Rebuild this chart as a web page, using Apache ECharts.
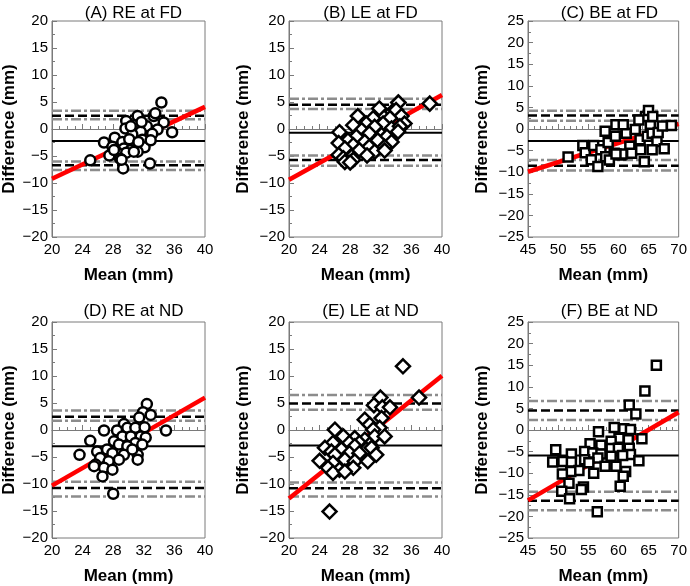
<!DOCTYPE html>
<html><head><meta charset="utf-8">
<script src="https://cdn.jsdelivr.net/npm/echarts@6/dist/echarts.min.js"></script>
<style>html,body{margin:0;padding:0;background:#fff}#c{width:690px;height:586px}</style>
</head><body><div id="c"></div><script>
// ---------------- data ----------------
const panelTitles = ['(A) RE at FD', '(B) LE at FD', '(C) BE at FD', '(D) RE at ND', '(E) LE at ND', '(F) BE at ND'];
const xAxisName = 'Mean (mm)';
const yAxisName = 'Difference (mm)';
const xMin = [20, 20, 45, 20, 20, 45];
const xMax = [40, 40, 70, 40, 40, 70];
const xStep = [4, 4, 5, 4, 4, 5];
const yMin = [-20, -20, -25, -20, -20, -25];
const yMax = [20, 20, 25, 20, 20, 25];
const yStep = [5, 5, 5, 5, 5, 5];

const meanBias   = [-2.2, -0.7, -2.75, -3.0, -2.85, -5.9];
const upperLoA   = [2.45, 4.5, 3.1, 2.45, 4.9, 4.5];
const upperLoACI = [[1.8, 3.4], [3.7, 5.6], [1.9, 4.2], [1.7, 3.6], [3.75, 6.5], [2.3, 6.7]];
const lowerLoA   = [-6.7, -5.75, -8.5, -10.75, -10.8, -16.4];
const lowerLoACI = [[-7.6, -6.0], [-6.8, -4.9], [-9.6, -7.2], [-12.3, -9.6], [-12.3, -9.7], [-18.6, -14.3]];
const regAtXMin  = [-9.2, -9.4, -9.9, -10.3, -12.7, -16.3];
const regAtXMax  = [4.1, 6.3, 1.2, 6.0, 10.05, 4.1];

const pointsA = [[34.3,4.9],[33.3,2.4],[33.5,2.9],[31.2,2.4],[29.7,1.5],[34.6,1.2],[32.4,0.5],[30.7,0.7],[29.6,0.1],[35.7,-0.6],[33.8,-0.1],[31.6,-0.5],[30.5,-1.0],[33.1,-0.9],[28.2,-1.6],[26.8,-2.5],[29.2,-2.4],[31.8,-2.0],[30.7,-3.0],[32.1,-3.4],[32.9,-2.1],[27.9,-3.3],[29.4,-3.6],[30.3,-3.9],[31.2,-4.2],[28.5,-4.3],[27.5,-4.9],[29.7,-4.4],[30.7,-4.2],[28.9,-5.5],[25.0,-5.8],[32.8,-6.4],[29.3,-7.3],[28.1,-3.9],[30.1,-1.9],[31.7,1.3],[30.3,0.5],[31.3,-2.4],[29.1,-5.7]];
const pointsB = [[38.4,4.7],[34.3,4.9],[31.8,3.8],[33.5,3.2],[34.0,3.5],[34.7,2.4],[29.0,2.4],[33.2,2.0],[31.0,2.0],[30.1,1.0],[35.1,1.0],[28.4,0.7],[32.3,1.0],[31.2,0.4],[33.4,0.1],[34.5,0.5],[29.5,-0.2],[26.6,-0.6],[30.5,-0.8],[32.1,-1.1],[28.8,-1.4],[32.8,-1.4],[34.25,-0.5],[27.7,-2.1],[29.9,-2.4],[31.6,-2.1],[26.5,-2.6],[33.4,-2.4],[28.4,-3.0],[30.5,-3.3],[32.5,-3.3],[27.3,-3.6],[29.2,-3.9],[31.2,-4.2],[32.5,-4.0],[26.5,-4.8],[28.2,-5.1],[30.2,-4.9],[27.1,-5.4],[28.4,-5.7],[27.3,-6.1],[28.0,-6.2]];
const filledPointsB = [[34.3,4.9]];
const pointsC = [[51.65,-6.5],[54.1,-3.8],[54.5,-5.5],[55.9,-3.8],[55.5,-7.1],[56.6,-8.7],[57.1,-4.8],[57.8,-0.5],[57.9,-6.4],[58.3,-3.1],[59.3,-5.6],[59.6,1.0],[59.5,-1.7],[60.4,-6.0],[61.3,-1.0],[60.8,1.0],[61.9,-4.0],[62.2,-5.6],[62.8,-0.1],[63.6,-2.5],[63.7,-4.8],[64.3,-7.6],[64.5,2.9],[65.0,4.3],[65.7,2.9],[65.3,0.75],[64.8,-1.7],[65.6,-1.0],[66.4,-2.9],[66.6,-0.8],[67.3,0.7],[67.6,-4.6],[68.8,0.8],[65.6,-4.8],[63.4,2.1],[58.5,-7.2],[60.6,-5.8],[59.6,-5.8]];
const pointsD = [[32.4,4.8],[31.9,3.3],[31.4,2.3],[32.9,2.8],[34.9,-0.1],[29.4,1.1],[26.8,-0.1],[29.85,0.4],[30.9,0.4],[32.1,0.5],[28.5,-0.1],[29.2,-1.2],[30.3,-1.2],[31.6,-1.2],[32.25,-1.4],[25.0,-2.0],[28.1,-2.1],[30.9,-2.4],[31.8,-2.7],[28.75,-2.7],[29.85,-3.0],[25.9,-4.0],[23.6,-4.6],[27.2,-3.6],[27.9,-4.3],[29.4,-4.6],[31.2,-4.6],[26.3,-5.2],[28.75,-5.5],[27.4,-5.8],[25.7,-6.4],[26.8,-7.0],[25.5,-6.7],[27.9,-7.35],[26.6,-8.6],[28.0,-11.8],[31.2,-5.5],[30.5,-3.6]];
const pointsE = [[34.9,11.8],[37.0,6.0],[31.95,6.0],[31.1,4.6],[32.2,4.2],[33.2,4.2],[32.1,2.2],[29.9,1.9],[30.55,1.0],[26.0,0.05],[31.85,0.4],[31.0,0.05],[27.1,-1.2],[31.2,-1.2],[32.5,-1.2],[28.6,-1.5],[29.9,-1.8],[27.9,-2.4],[25.75,-2.4],[29.2,-2.4],[30.55,-2.7],[24.7,-3.3],[28.6,-3.0],[30.1,-3.6],[26.85,-3.6],[25.55,-4.0],[27.9,-4.3],[29.2,-4.3],[30.8,-3.3],[26.0,-4.6],[31.4,-4.6],[24.0,-5.7],[27.3,-5.5],[28.6,-5.8],[30.3,-5.8],[25.75,-6.1],[25.1,-7.0],[26.6,-7.35],[28.4,-7.0],[25.75,-7.96],[25.3,-15.1],[27.3,-7.7]];
const pointsF = [[66.3,15.0],[64.4,9.0],[61.8,5.8],[62.9,3.7],[63.9,-2.0],[59.3,0.6],[56.7,-0.4],[60.9,0.3],[62.0,0.1],[61.65,-2.25],[60.1,-1.9],[58.8,-2.6],[55.3,-3.2],[57.1,-3.55],[49.6,-4.6],[58.8,-4.3],[54.4,-4.95],[60.0,-4.2],[61.8,-4.2],[55.75,-5.3],[52.2,-5.55],[57.1,-5.55],[58.8,-6.1],[62.0,-5.7],[60.7,-5.9],[54.4,-6.9],[56.6,-6.5],[49.1,-7.4],[50.8,-7.3],[52.2,-7.4],[55.1,-7.6],[57.8,-8.4],[59.6,-8.4],[53.45,-9.4],[63.4,-7.1],[55.9,-10.0],[52.1,-9.6],[50.7,-10.2],[61.2,-9.6],[60.8,-10.7],[51.8,-12.3],[50.6,-14.2],[54.2,-13.2],[53.85,-13.8],[51.9,-15.9],[60.3,-13.0],[56.5,-18.9]];
const panelPoints = [pointsA, pointsB, pointsC, pointsD, pointsE, pointsF];
const panelShapes = ['circle', 'diamond', 'rect', 'circle', 'diamond', 'rect'];

// ---------------- layout / style ----------------
const FONT = "'Liberation Sans', Arial, Helvetica, sans-serif";
const gridLeft = [52, 289, 528, 52, 289, 528];
const gridTop = [21, 21, 21, 322, 322, 322];
const titleTop = [0, 0, 0, 298, 298, 298];
const gridW = 153, gridH = 216;
const yNameGap = [34, 37, 37, 34, 37, 37];
const shapeSize = { circle: 10, diamond: 14, rect: 9 };
const minorX = [4, 4, 5, 4, 4, 5];

const fmt = v => String(v).replace('-', '\u2212');

const grids = [], xAxes = [], yAxes = [], titles = [], series = [];
for (let i = 0; i < 6; i++) {
  grids.push({ left: gridLeft[i], top: gridTop[i], width: gridW, height: gridH, show: true,
    borderColor: '#7a7a7a', borderWidth: 1, backgroundColor: 'transparent' });
  titles.push({ text: panelTitles[i], left: gridLeft[i] + gridW / 2, top: titleTop[i],
    textAlign: 'center', textStyle: { fontFamily: FONT, fontSize: 17, fontWeight: 'normal', color: '#000' } });
  const axisCommon = {
    axisLine: { show: true, lineStyle: { color: '#7a7a7a', width: 1 } },
    axisTick: { show: true, inside: true, length: 5, lineStyle: { color: '#7a7a7a', width: 1 } },
    minorTick: { show: true, length: 3, lineStyle: { color: '#7a7a7a', width: 1 } },
    splitLine: { show: false },
    nameLocation: 'middle',
    nameTextStyle: { fontFamily: FONT, fontSize: 17, fontWeight: 'bold', color: '#000' }
  };
  xAxes.push(Object.assign({}, axisCommon, {
    type: 'value', gridIndex: i, min: xMin[i], max: xMax[i], interval: xStep[i],
    name: xAxisName, nameGap: 30,
    minorTick: Object.assign({}, axisCommon.minorTick, { splitNumber: minorX[i] }),
    axisLabel: { fontFamily: FONT, fontSize: 15, color: '#000', margin: 5, formatter: fmt }
  }));
  yAxes.push(Object.assign({}, axisCommon, {
    type: 'value', gridIndex: i, min: yMin[i], max: yMax[i], interval: yStep[i],
    name: yAxisName, nameGap: yNameGap[i],
    minorTick: Object.assign({}, axisCommon.minorTick, { splitNumber: 2 }),
    axisLabel: { fontFamily: FONT, fontSize: 15, color: '#000', margin: 4, formatter: fmt }
  }));
  const hline = (y, style) => ({
    type: 'line', xAxisIndex: i, yAxisIndex: i, data: [[xMin[i], y], [xMax[i], y]],
    symbol: 'none', silent: true, lineStyle: style, z: 2
  });
  const grayStyle = { color: '#8c8c8c', width: 2.5, type: [10, 3, 3, 3] };
  const dashStyle = { color: '#000', width: 2.5, type: [9, 4] };
  upperLoACI[i].forEach(y => series.push(hline(y, grayStyle)));
  lowerLoACI[i].forEach(y => series.push(hline(y, grayStyle)));
  series.push(hline(upperLoA[i], dashStyle));
  series.push(hline(lowerLoA[i], dashStyle));
  series.push(hline(meanBias[i], { color: '#000', width: 2, type: 'solid' }));
  series.push({
    type: 'line', xAxisIndex: i, yAxisIndex: i,
    data: [[xMin[i], regAtXMin[i]], [xMax[i], regAtXMax[i]]],
    symbol: 'none', silent: true, lineStyle: { color: '#ff0000', width: 4.5 }, z: 3
  });
  if (i === 1) {
    series.push({
      type: 'scatter', xAxisIndex: i, yAxisIndex: i, data: filledPointsB,
      symbol: 'diamond', symbolSize: shapeSize.diamond,
      itemStyle: { color: '#000', borderColor: '#000', borderWidth: 2.5 }, z: 4
    });
  }
  series.push({
    type: 'scatter', xAxisIndex: i, yAxisIndex: i, data: panelPoints[i],
    symbol: panelShapes[i], symbolSize: shapeSize[panelShapes[i]],
    itemStyle: { color: '#fff', borderColor: '#000', borderWidth: 2.5, opacity: 1 }, z: 5
  });
}

const chart = echarts.init(document.getElementById('c'), null, { renderer: 'canvas' });
chart.setOption({
  animation: false,
  backgroundColor: '#fff',
  title: titles, grid: grids, xAxis: xAxes, yAxis: yAxes, series: series
});
</script></body></html>
